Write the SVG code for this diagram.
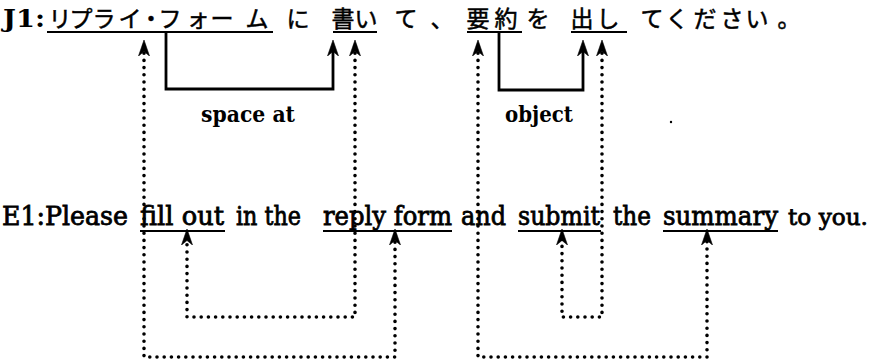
<svg xmlns="http://www.w3.org/2000/svg" width="874" height="362" viewBox="0 0 874 362">
<style>
.jp{font-family:"Noto Sans CJK JP","Noto Sans CJK SC",sans-serif;font-size:23px;fill:#000;stroke:#000;stroke-width:0.5;text-anchor:middle}
.lat{font-family:"DejaVu Serif","Liberation Serif",serif;font-size:26px;fill:#000;stroke:#000;stroke-width:0.8}
.lat.small{font-size:23px}
.bold{font-family:"DejaVu Serif","Liberation Serif",serif;font-weight:bold;fill:#000}
.ul{stroke:#000;stroke-width:2.2;fill:none}
.solid{stroke:#000;stroke-width:2.8;fill:none;stroke-linejoin:miter;marker-end:url(#arr)}
.dot{stroke:#000;stroke-width:3.6;fill:none;stroke-linecap:round;stroke-dasharray:0 7.2;marker-start:url(#arr);marker-end:url(#arr)}
</style>
<defs>
<marker id="arr" markerUnits="userSpaceOnUse" markerWidth="20" markerHeight="16" refX="10" refY="7" orient="auto-start-reverse">
<path d="M16,7 L0,1.5 L4.5,7 L0,12.5 Z" fill="#000" stroke="#000" stroke-width="0.6"/>
</marker>
</defs>
<rect width="874" height="362" fill="#fff"/>

<g id="j1-line">
<text class="bold" x="3" y="27" font-size="25" textLength="42" lengthAdjust="spacingAndGlyphs">J1:</text>
</g>
<g id="j-replyform">
<text class="jp" y="27" x="60 81 104 130 151 170 198 222 257">リプライ・フォーム</text>
<line class="ul" x1="47" y1="32" x2="273" y2="32"/>
</g>
<g id="j-ni"><text class="jp" x="298" y="27">に</text></g>
<g id="j-kaii">
<text class="jp" y="27" x="343 366">書い</text>
<line class="ul" x1="333" y1="32" x2="377" y2="32"/>
</g>
<g id="j-te1"><text class="jp" y="27" x="406 442">て、</text></g>
<g id="j-youyaku">
<text class="jp" y="27" x="478 506">要約</text>
<line class="ul" x1="467" y1="32" x2="522" y2="32"/>
</g>
<g id="j-wo"><text class="jp" x="538" y="27">を</text></g>
<g id="j-dashi">
<text class="jp" y="27" x="582 608">出し</text>
<line class="ul" x1="571" y1="32" x2="627" y2="32"/>
</g>
<g id="j-rest"><text class="jp" y="27" x="652 677 705 732 757 789">てください。</text></g>

<g id="e1-line">
<text class="lat" x="2" y="225" textLength="126" lengthAdjust="spacingAndGlyphs">E1:Please</text>
<text class="lat" x="236" y="225" textLength="65" lengthAdjust="spacingAndGlyphs">in the</text>
<text class="lat" x="461" y="225" textLength="45" lengthAdjust="spacingAndGlyphs">and</text>
<text class="lat" x="613" y="225" textLength="38" lengthAdjust="spacingAndGlyphs">the</text>
<text class="lat small" x="788" y="225" textLength="80" lengthAdjust="spacingAndGlyphs">to you.</text>
</g>
<g id="e-fillout">
<text class="lat" x="140" y="225" textLength="84" lengthAdjust="spacingAndGlyphs">fill out</text>
<line class="ul" x1="140" y1="231" x2="225" y2="231"/>
</g>
<g id="e-replyform">
<text class="lat" x="323" y="225" textLength="129" lengthAdjust="spacingAndGlyphs">reply form</text>
<line class="ul" x1="323" y1="231" x2="452" y2="231"/>
</g>
<g id="e-submit">
<text class="lat" x="518" y="225" textLength="82" lengthAdjust="spacingAndGlyphs">submit</text>
<line class="ul" x1="518" y1="231" x2="601" y2="231"/>
</g>
<g id="e-summary">
<text class="lat" x="663" y="225" textLength="115" lengthAdjust="spacingAndGlyphs">summary</text>
<line class="ul" x1="663" y1="231" x2="778" y2="231"/>
</g>

<g id="connectors">
<path class="solid" d="M166,32 V89 H333 V46"/>
<path class="solid" d="M499,32 V90 H583 V46"/>
<path class="dot" d="M144,46 V357 H395 V235"/>
<path class="dot" d="M355,46 V317 H187 V235"/>
<path class="dot" d="M478,46 V357 H707 V235"/>
<path class="dot" d="M602,46 V317 H562 V235"/>
</g>
<g id="labels">
<text class="bold" x="201" y="122" font-size="22" textLength="94" lengthAdjust="spacingAndGlyphs">space at</text>
<text class="bold" x="505" y="122" font-size="22" textLength="68" lengthAdjust="spacingAndGlyphs">object</text>
</g>
<circle cx="671" cy="122" r="1.2" fill="#000"/>
</svg>
